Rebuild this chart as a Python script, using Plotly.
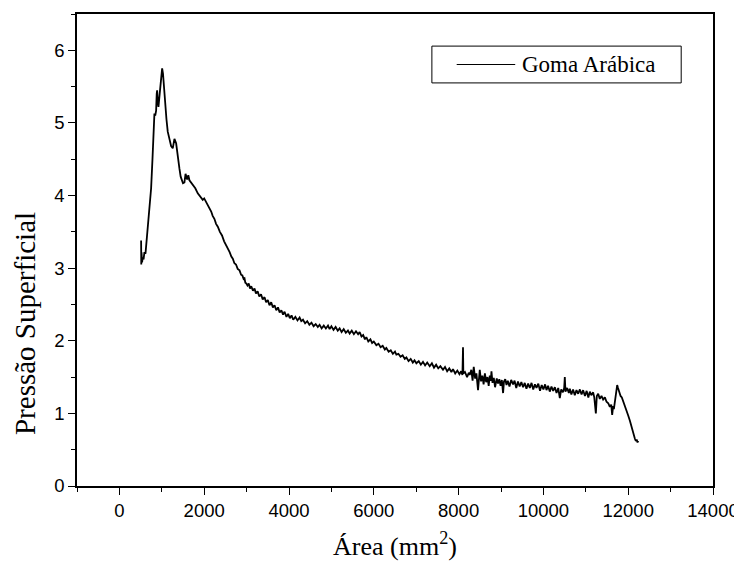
# Isoterma de pressão superficial - Goma Arábica
# Valores (área em mm², pressão superficial)

import plotly.graph_objects as go

# subida inicial e pico
area_pico = [512, 516, 522, 535, 550, 570, 590, 615, 640, 668, 700, 748, 780, 810, 826, 845, 866, 880, 890, 905,
             921, 950, 984, 1008, 1028, 1046, 1066, 1086, 1110, 1140, 1160, 1180, 1220, 1258, 1280, 1298, 1338, 1376,
             1416, 1445, 1471, 1500, 1534, 1560, 1598, 1625, 1652, 1690, 1730, 1790, 1848, 1900, 1966]
pressao_pico = [3.38, 3.05, 3.22, 3.08, 3.15, 3.12, 3.22, 3.20, 3.38, 3.55, 3.80, 4.10, 4.50, 4.83, 5.13, 5.10, 5.17,
                5.40, 5.45, 5.28, 5.22, 5.40, 5.56, 5.75, 5.68, 5.52, 5.30, 5.11, 5.05, 4.88, 4.82, 4.76, 4.68, 4.65,
                4.70, 4.78, 4.72, 4.51, 4.37, 4.26, 4.21, 4.17, 4.18, 4.30, 4.22, 4.28, 4.21, 4.18, 4.14, 4.10, 4.03,
                3.99, 3.94]

# queda entre 2000 e 4300
area_queda = [2000, 2046, 2100, 2140, 2165, 2200, 2240, 2280, 2321, 2370, 2420, 2470, 2518, 2560, 2600, 2640, 2675,
              2710, 2750, 2790, 2833, 2870, 2900, 2930, 2951, 2970, 2990, 3020, 3050, 3080, 3110, 3150, 3187, 3220,
              3260, 3300, 3340, 3380, 3423, 3460, 3500, 3540, 3580, 3620, 3659, 3700, 3740, 3780, 3820, 3860, 3895,
              3940, 3980, 4020, 4060, 4100, 4150, 4200, 4250, 4289]
pressao_queda = [3.96, 3.91, 3.86, 3.80, 3.78, 3.72, 3.68, 3.61, 3.57, 3.50, 3.45, 3.37, 3.32, 3.26, 3.22, 3.16, 3.13,
                 3.07, 3.05, 2.99, 2.97, 2.91, 2.90, 2.85, 2.86, 2.80, 2.79, 2.76, 2.79, 2.72, 2.75, 2.69, 2.72, 2.65,
                 2.68, 2.61, 2.64, 2.57, 2.60, 2.53, 2.56, 2.49, 2.53, 2.46, 2.49, 2.42, 2.46, 2.39, 2.42, 2.36, 2.40,
                 2.33, 2.37, 2.31, 2.35, 2.29, 2.33, 2.28, 2.32, 2.27]

# patamar e descida lenta até ~8300
area_meio = [4330, 4380, 4430, 4480, 4530, 4580, 4630, 4680, 4721, 4770, 4820, 4870, 4920, 4958, 5000, 5050, 5100,
             5150, 5194, 5240, 5290, 5340, 5390, 5430, 5480, 5530, 5580, 5630, 5666, 5710, 5750, 5790, 5824, 5870,
             5920, 5960, 6000, 6060, 6110, 6160, 6210, 6260, 6296, 6350, 6400, 6450, 6500, 6532, 6580, 6630, 6680,
             6730, 6769, 6820, 6870, 6920, 6960, 7004, 7060, 7110, 7160, 7210, 7260, 7319, 7370, 7420, 7470, 7520,
             7570, 7632, 7680, 7730, 7780, 7830, 7868, 7920, 7970, 8020, 8060, 8090, 8104, 8112, 8150, 8200, 8240,
             8263]
pressao_meio = [2.29, 2.24, 2.27, 2.22, 2.25, 2.20, 2.23, 2.19, 2.22, 2.17, 2.21, 2.17, 2.21, 2.16, 2.20, 2.15, 2.19,
                2.14, 2.17, 2.12, 2.16, 2.11, 2.14, 2.10, 2.14, 2.09, 2.13, 2.09, 2.12, 2.06, 2.08, 2.02, 2.05, 1.99,
                2.02, 1.97, 1.99, 1.94, 1.96, 1.91, 1.93, 1.88, 1.90, 1.85, 1.87, 1.82, 1.85, 1.81, 1.82, 1.78, 1.80,
                1.75, 1.77, 1.72, 1.75, 1.70, 1.73, 1.69, 1.72, 1.67, 1.71, 1.66, 1.70, 1.65, 1.69, 1.63, 1.67, 1.62,
                1.65, 1.60, 1.64, 1.58, 1.62, 1.57, 1.61, 1.55, 1.59, 1.54, 1.58, 1.53, 1.91, 1.55, 1.57, 1.50, 1.56,
                1.53]

# trecho ruidoso e colapso final
area_fim = [8300, 8330, 8357, 8390, 8420, 8458, 8480, 8499, 8530, 8560, 8590, 8620, 8650, 8680, 8710, 8735, 8760,
            8775, 8800, 8830, 8860, 8900, 8930, 8960, 8990, 9020, 9049, 9070, 9100, 9130, 9160, 9200, 9240, 9285,
            9320, 9360, 9400, 9440, 9480, 9521, 9560, 9600, 9640, 9680, 9720, 9760, 9800, 9837, 9880, 9920, 9960,
            10000, 10040, 10073, 10110, 10150, 10190, 10230, 10270, 10310, 10350, 10387, 10420, 10460, 10490, 10505,
            10520, 10560, 10600, 10623, 10660, 10700, 10740, 10780, 10820, 10860, 10900, 10937, 10980, 11020, 11060,
            11095, 11130, 11173, 11200, 11237, 11260, 11292, 11330, 11370, 11409, 11450, 11489, 11530, 11567, 11600,
            11622, 11645, 11662, 11690, 11715, 11740, 11760, 11780, 11800, 11820, 11850, 11882, 11920, 11962, 12000,
            12040, 12070, 12104, 12130, 12158, 12180, 12200, 12220, 12236]
pressao_fim = [1.60, 1.45, 1.64, 1.48, 1.55, 1.32, 1.52, 1.60, 1.44, 1.52, 1.40, 1.55, 1.43, 1.50, 1.38, 1.52, 1.45,
               1.58, 1.42, 1.49, 1.36, 1.48, 1.41, 1.47, 1.38, 1.46, 1.28, 1.44, 1.47, 1.39, 1.45, 1.37, 1.46, 1.40,
               1.45, 1.35, 1.44, 1.37, 1.43, 1.36, 1.42, 1.34, 1.41, 1.35, 1.42, 1.33, 1.40, 1.35, 1.41, 1.31, 1.39,
               1.33, 1.40, 1.32, 1.38, 1.30, 1.37, 1.31, 1.36, 1.28, 1.35, 1.21, 1.33, 1.29, 1.35, 1.50,
               1.30, 1.35, 1.28, 1.34, 1.26, 1.33, 1.25, 1.32, 1.27, 1.33, 1.26, 1.32, 1.24, 1.31, 1.22,
               1.30, 1.25, 1.29, 1.22, 1.00, 1.24, 1.27, 1.20, 1.24, 1.19, 1.22, 1.16, 1.14, 1.09, 1.12,
               0.98, 1.10, 1.06, 1.20, 1.30, 1.39, 1.35, 1.30, 1.28, 1.24, 1.22, 1.17, 1.12, 1.04, 0.97,
               0.90, 0.83, 0.76, 0.70, 0.65, 0.62, 0.64, 0.60, 0.62]

assert len(area_pico) == len(pressao_pico)
assert len(area_queda) == len(pressao_queda)
assert len(area_meio) == len(pressao_meio)
assert len(area_fim) == len(pressao_fim)

area = area_pico + area_queda + area_meio + area_fim
pressao = pressao_pico + pressao_queda + pressao_meio + pressao_fim

nome_serie = "Goma Arábica"
x_ticks = [0, 2000, 4000, 6000, 8000, 10000, 12000, 14000]
x_ticktext = ["0", "2000", "4000", "6000", "8000", "10000", "12000", "14000"]
y_ticks = [0, 1, 2, 3, 4, 5, 6]
y_ticktext = ["0", "1", "2", "3", "4", "5", "6"]

SERIF = "Liberation Serif"
SANS = "Liberation Sans"

fig = go.Figure()
fig.add_trace(go.Scatter(x=area, y=pressao, mode="lines", name=nome_serie,
                         line=dict(color="black", width=1.8), showlegend=False))

eixo = dict(showgrid=False, zeroline=False, showline=True, linecolor="black", linewidth=1.5,
            mirror=True, ticks="outside", ticklen=7, tickwidth=1.3, tickcolor="black", automargin=False,
            tickfont=dict(family=SANS, size=18.5, color="black"))

fig.update_xaxes(range=[-1000, 14000], tickvals=x_ticks, ticktext=x_ticktext,
                 minor=dict(dtick=1000, tick0=0, ticks="outside", ticklen=4, tickcolor="black"),
                 title=dict(text="Área (mm<sup>2</sup>)", standoff=17,
                            font=dict(family=SERIF, size=26, color="black")),
                 **eixo)
fig.update_yaxes(range=[0, 6.5], tickvals=y_ticks, ticktext=y_ticktext,
                 minor=dict(dtick=0.5, tick0=0, ticks="outside", ticklen=4, tickcolor="black"),
                 **eixo)

# título do eixo y: no original fica abaixo do centro do eixo
fig.add_annotation(text="Pressão Superficial", xref="paper", yref="paper", x=-0.082, y=0.345,
                   textangle=-90, xanchor="center", yanchor="middle", showarrow=False,
                   font=dict(family=SERIF, size=29, color="black"))

# legenda desenhada como no original (caixa com amostra de linha)
fig.add_shape(type="rect", xref="paper", yref="paper", x0=0.558, x1=0.950, y0=0.854, y1=0.932,
              line=dict(color="black", width=1), fillcolor="white", layer="below")
fig.add_shape(type="line", xref="paper", yref="paper", x0=0.597, x1=0.689, y0=0.893, y1=0.893,
              line=dict(color="black", width=1.2))
fig.add_annotation(text=nome_serie, xref="paper", yref="paper", x=0.697, y=0.893,
                   xanchor="left", yanchor="middle", showarrow=False,
                   font=dict(family=SERIF, size=23, color="black"))

# a página tem margem de 8 px no corpo: compensamos no tamanho e nas margens
fig.update_layout(width=734, height=558, margin=dict(l=69, r=29, t=6, b=80),
                  plot_bgcolor="white", paper_bgcolor="white")

fig.write_html("out.html")
